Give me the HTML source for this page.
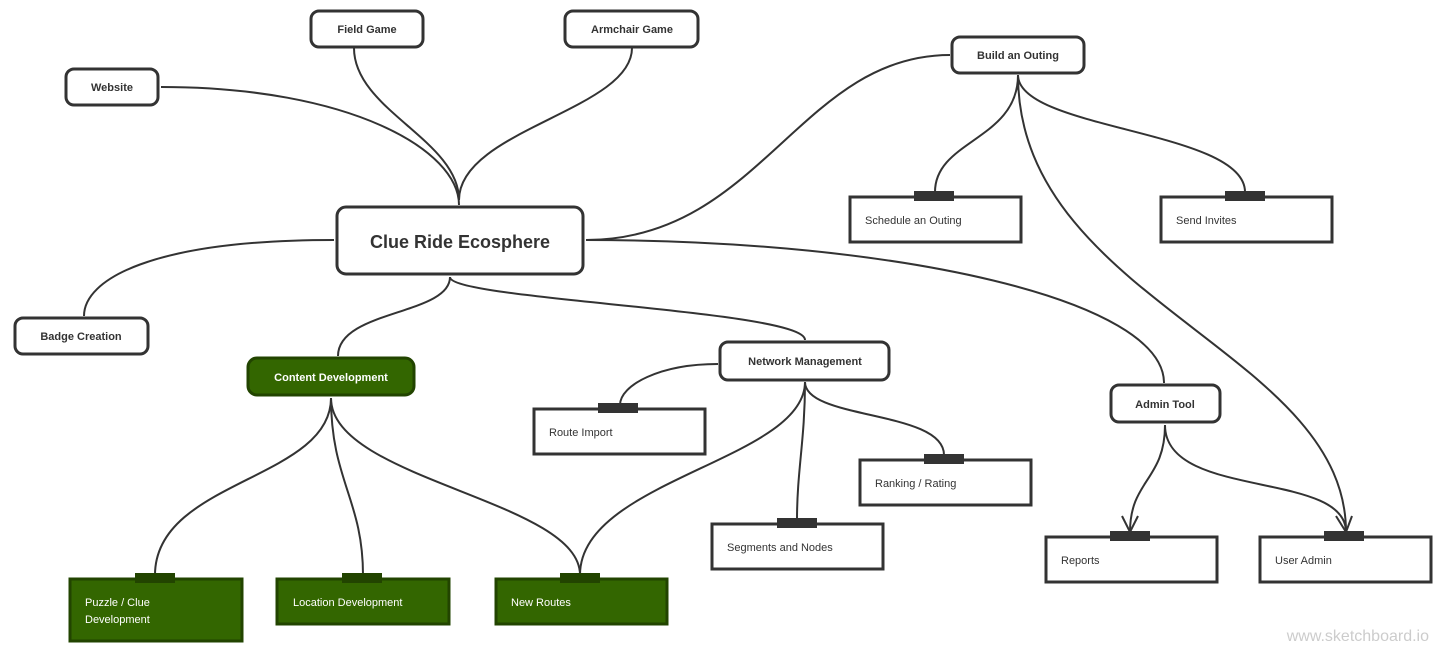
<!DOCTYPE html>
<html><head><meta charset="utf-8"><style>
html,body{margin:0;padding:0;background:#fff;}
svg{display:block;font-family:"Liberation Sans",sans-serif;}
.n{fill:#fff;stroke:#333;stroke-width:3;}
.g{fill:#336600;stroke:#224400;stroke-width:3;}
.e{fill:none;stroke:#333;stroke-width:2;}
.b{font-weight:bold;font-size:11px;fill:#333;text-anchor:middle;}
.t{font-size:11px;fill:#333;}
.w{fill:#fff;}
.tape{fill:#333;}
.gt{fill:#224400;}
</style></head><body>
<svg width="1448" height="656" viewBox="0 0 1448 656">
<g class="e">
<path d="M161,87 C350,87 459,150 459,205"/>
<path d="M354,48 C354,110 459,140 459,200"/>
<path d="M632,48 C632,110 459,130 459,200"/>
<path d="M586,240 C760,240 800,55 950,55"/>
<path d="M1018,75 C1018,140 935,140 935,192"/>
<path d="M1018,75 C1018,130 1245,130 1245,192"/>
<path d="M1018,75 C1018,300 1346,350 1346,532"/>
<path d="M586,240 C900,240 1164,300 1164,383"/>
<path d="M334,240 C150,240 84,280 84,316"/>
<path d="M450,277 C450,315 338,310 338,356"/>
<path d="M450,277 C450,300 805,310 805,340"/>
<path d="M718,364 C660,364 620,385 620,405"/>
<path d="M805,382 C805,440 797,470 797,520"/>
<path d="M805,382 C805,420 944,410 944,455"/>
<path d="M805,382 C805,460 580,480 580,575"/>
<path d="M331,398 C331,480 155,480 155,575"/>
<path d="M331,398 C331,480 363,500 363,575"/>
<path d="M331,398 C331,480 580,500 580,575"/>
<path d="M1165,425 C1165,480 1130,480 1130,532"/>
<path d="M1165,425 C1165,500 1346,470 1346,532"/>
<path d="M1122,516 L1130,532 L1138,516"/>
<path d="M1336,516 L1346,532 L1352,516"/>
</g>
<rect class="n" x="311" y="11" width="112" height="36" rx="8"/><text class="b" x="367" y="33">Field Game</text>
<rect class="n" x="565" y="11" width="133" height="36" rx="8"/><text class="b" x="632" y="33">Armchair Game</text>
<rect class="n" x="66" y="69" width="92" height="36" rx="8"/><text class="b" x="112" y="91">Website</text>
<rect class="n" x="952" y="37" width="132" height="36" rx="8"/><text class="b" x="1018" y="59">Build an Outing</text>
<rect class="n" x="337" y="207" width="246" height="67" rx="9"/><text class="b" x="460" y="248" style="font-size:18px">Clue Ride Ecosphere</text>
<rect class="n" x="15" y="318" width="133" height="36" rx="8"/><text class="b" x="81" y="340">Badge Creation</text>
<rect class="g" x="248" y="358" width="166" height="37" rx="9"/><text class="b w" x="331" y="381">Content Development</text>
<rect class="n" x="720" y="342" width="169" height="38" rx="8"/><text class="b" x="805" y="365">Network Management</text>
<rect class="n" x="1111" y="385" width="109" height="37" rx="8"/><text class="b" x="1165" y="408">Admin Tool</text>

<rect class="n" x="850" y="197" width="171" height="45"/><rect class="tape" x="914" y="191" width="40" height="10"/><text class="t" x="865" y="224">Schedule an Outing</text>
<rect class="n" x="1161" y="197" width="171" height="45"/><rect class="tape" x="1225" y="191" width="40" height="10"/><text class="t" x="1176" y="224">Send Invites</text>
<rect class="n" x="534" y="409" width="171" height="45"/><rect class="tape" x="598" y="403" width="40" height="10"/><text class="t" x="549" y="436">Route Import</text>
<rect class="n" x="860" y="460" width="171" height="45"/><rect class="tape" x="924" y="454" width="40" height="10"/><text class="t" x="875" y="487">Ranking / Rating</text>
<rect class="n" x="712" y="524" width="171" height="45"/><rect class="tape" x="777" y="518" width="40" height="10"/><text class="t" x="727" y="551">Segments and Nodes</text>
<rect class="n" x="1046" y="537" width="171" height="45"/><rect class="tape" x="1110" y="531" width="40" height="10"/><text class="t" x="1061" y="564">Reports</text>
<rect class="n" x="1260" y="537" width="171" height="45"/><rect class="tape" x="1324" y="531" width="40" height="10"/><text class="t" x="1275" y="564">User Admin</text>

<rect class="g" x="70" y="579" width="172" height="62"/><rect class="gt" x="135" y="573" width="40" height="10"/><text class="t w" x="85" y="606">Puzzle / Clue</text><text class="t w" x="85" y="623">Development</text>
<rect class="g" x="277" y="579" width="172" height="45"/><rect class="gt" x="342" y="573" width="40" height="10"/><text class="t w" x="293" y="606">Location Development</text>
<rect class="g" x="496" y="579" width="171" height="45"/><rect class="gt" x="560" y="573" width="40" height="10"/><text class="t w" x="511" y="606">New Routes</text>

<text x="1429" y="641" style="font-size:16px;fill:#ccc;text-anchor:end">www.sketchboard.io</text>
</svg>
</body></html>
